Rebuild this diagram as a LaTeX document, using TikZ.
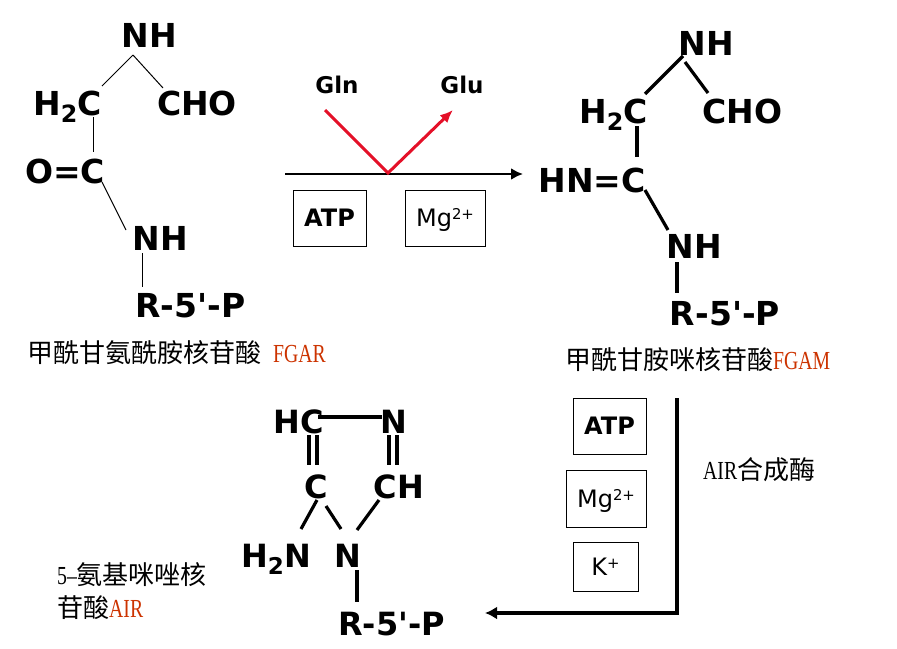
\documentclass[tikz,border=0pt]{standalone}
\usepackage{fontspec}
\usepackage{graphicx}
\usetikzlibrary{arrows.meta}
\newfontfamily\chemfont{DejaVu Sans}[Ligatures=TeXOff]
\newfontfamily\latfont{Liberation Serif}
\newfontfamily\cjkfont{Noto Sans CJK SC}
\definecolor{lblred}{RGB}{204,51,0}
\definecolor{rxred}{RGB}{228,16,40}
\newcommand\chsub[1]{\raisebox{-0.24em}{\scalebox{0.72}{#1}}}
\newcommand\chsup[1]{\raisebox{0.3em}{\scalebox{0.62}{#1}}}
\newcommand\lat[1]{\scalebox{0.76}[1]{\latfont #1}}
\begin{document}
\begin{tikzpicture}[x=1pt,y=-1pt,
  chemL/.style={font=\chemfont\bfseries\fontsize{33}{40}\selectfont, inner sep=0pt, anchor=base},
  chemS/.style={font=\chemfont\bfseries\fontsize{32}{38}\selectfont, inner sep=0pt, anchor=base},
  rxlabel/.style={font=\chemfont\bfseries\fontsize{23}{28}\selectfont, inner sep=0pt, anchor=base},
  thinbond/.style={line width=1pt},
  thickbond/.style={line width=3.2pt},
  cofbox/.style={draw, line width=1pt, inner sep=0pt, text height=17.5pt, text depth=0pt},
  boldtxt/.style={font=\chemfont\bfseries\fontsize{24}{28}\selectfont},
  regtxt/.style={font=\chemfont\fontsize{24}{28}\selectfont},
  cjk/.style={font=\cjkfont\fontsize{26}{32}\selectfont, inner sep=0pt, anchor=west},
  mainarrow/.style={line width=2.8pt, -{Latex[length=12pt,width=12pt]}},
  redarrow/.style={draw=rxred, line width=3pt, line join=miter, -{Latex[length=13pt,width=11pt]}},
  bigarrow/.style={line width=4.5pt, line join=miter, -{Latex[length=12pt,width=13pt]}}
]
\useasboundingbox (0,0) rectangle (897,648);

% ---------- FGAR (top left) ----------
\node[chemL] (nhA)  at (149,47)   {NH};
\node[chemL] (h2cA) at (67.5,115) {H\chsub{2}C};
\node[chemL] (choA) at (197,115)  {CHO};
\node[chemL] (ocA)  at (65,183)   {O=C};
\node[chemL] (nhA2) at (160,250)  {NH};
\node[chemL] (rA)   at (190.5,317){R-5'-P};
\draw[thinbond] ([shift={(-16,8)}]nhA.base) -- ([shift={(34.5,-29)}]h2cA.base);
\draw[thinbond] ([shift={(-16,8)}]nhA.base) -- ([shift={(-34,-27)}]choA.base);
\draw[thinbond] ([shift={(25.5,2)}]h2cA.base) -- ([shift={(28,-31)}]ocA.base);
\draw[thinbond] ([shift={(37,-1)}]ocA.base) -- ([shift={(-34,-20)}]nhA2.base);
\draw[thinbond] ([shift={(-18,3)}]nhA2.base) -- ([shift={(-48.5,-30)}]rA.base);
\node[cjk] (lblA) at (27,353) {甲酰甘氨酰胺核苷酸\hspace{12pt}\textcolor{lblred}{\lat{FGAR}}};

% ---------- reaction 1 ----------
\node[rxlabel] (gln) at (337,93) {Gln};
\node[rxlabel] (glu) at (462,93) {Glu};
\coordinate (m1) at (285,174);
\coordinate (m2) at (523,174);
\coordinate (rv) at (388,173);
\draw[mainarrow] (m1) -- (m2);
\draw[redarrow] ([shift={(-12,17)}]gln.base) -- (rv) -- ([shift={(-9,17)}]glu.base);
\node[cofbox, boldtxt, minimum width=73pt, minimum height=56pt] (atp1) at (329.5,218) {ATP};
\node[cofbox, regtxt, minimum width=80pt, minimum height=56pt] (mg1) at (445,218) {Mg\chsup{2+}};

% ---------- FGAM (top right) ----------
\node[chemL] (nhB)  at (706,55)    {NH};
\node[chemL] (h2cB) at (613.5,123) {H\chsub{2}C};
\node[chemL] (choB) at (742.5,123) {CHO};
\node[chemL] (hncB) at (592,192)   {HN=C};
\node[chemL] (nhB2) at (694,258)   {NH};
\node[chemL] (rB)   at (725,325)   {R-5'-P};
\draw[thickbond] ([shift={(-23,1)}]nhB.base) -- ([shift={(31.5,-29)}]h2cB.base);
\draw[thickbond] ([shift={(-21,7)}]nhB.base) -- ([shift={(-34.5,-30)}]choB.base);
\draw[thickbond] ([shift={(23.5,3)}]h2cB.base) -- ([shift={(45,-35)}]hncB.base);
\draw[thickbond] ([shift={(53,-2)}]hncB.base) -- ([shift={(-26,-28)}]nhB2.base);
\draw[thickbond] ([shift={(-17,4)}]nhB2.base) -- ([shift={(-48,-32)}]rB.base);
\node[cjk] (lblB) at (565,360) {甲酰甘胺咪核苷酸\textcolor{lblred}{\lat{FGAM}}};

% ---------- reaction 2 ----------
\node[cofbox, boldtxt, minimum width=73pt, minimum height=56pt] (atp2) at (609.5,426) {ATP};
\node[cofbox, regtxt, minimum width=80pt, minimum height=57pt] (mg2) at (606,498.5) {Mg\chsup{2+}};
\node[cofbox, regtxt, minimum width=65pt, minimum height=49pt] (kp) at (605.5,566.5) {K\chsup{+}};
\node[cjk] (lblC) at (703,470) {\lat{AIR}合成酶};

% ---------- AIR (bottom left) ----------
\node[chemS] (hcC)  at (299,433)   {HC};
\node[chemS] (nC)   at (393.5,433) {N};
\node[chemS] (cC)   at (316.5,498) {C};
\node[chemS] (chC)  at (399,498)   {CH};
\node[chemS] (h2nC) at (276,567)   {H\chsub{2}N};
\node[chemS] (nC2)  at (347.5,567) {N};
\node[chemS] (rC)   at (391.5,635) {R-5'-P};
\draw[thickbond] ([shift={(19,-16)}]hcC.base) -- ([shift={(-11.5,-16)}]nC.base);
\draw[thickbond] ([shift={(10,2)}]hcC.base) -- ([shift={(-7.5,-33)}]cC.base);
\draw[thickbond] ([shift={(18,2)}]hcC.base) -- ([shift={(0.5,-33)}]cC.base);
\draw[thickbond] ([shift={(-4.5,2)}]nC.base) -- ([shift={(-10,-33)}]chC.base);
\draw[thickbond] ([shift={(3.5,2)}]nC.base) -- ([shift={(-2,-33)}]chC.base);
\draw[thickbond] ([shift={(0.5,2)}]cC.base) -- ([shift={(25,-38)}]h2nC.base);
\draw[thickbond] ([shift={(9.5,8)}]cC.base) -- ([shift={(-6.5,-38)}]nC2.base);
\draw[thickbond] ([shift={(-20,2)}]chC.base) -- ([shift={(9.5,-37)}]nC2.base);
\draw[thickbond] ([shift={(9.5,3)}]nC2.base) -- ([shift={(-34.5,-33)}]rC.base);
\node[cjk] (lblD1) at (57,575)   {\lat{5–}氨基咪唑核};
\node[cjk] (lblD2) at (57,607.5) {苷酸\textcolor{lblred}{\lat{AIR}}};

\coordinate (l1) at (677,398);
\draw[bigarrow] (l1) |- ([shift={(93.5,-22)}]rC.base);
\end{tikzpicture}
\end{document}
